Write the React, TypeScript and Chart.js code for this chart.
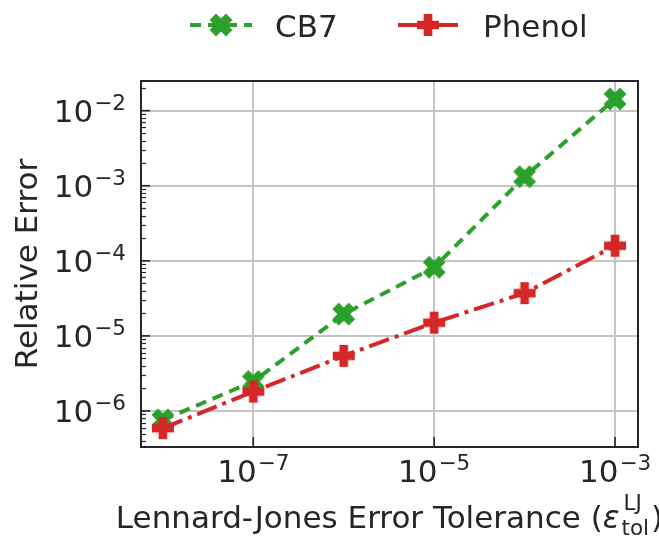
import React, { useEffect, useRef } from 'react';
import { Chart, registerables } from 'chart.js';

Chart.register(...registerables);

// ---- data ----
const tolerances = [1e-8, 1e-7, 1e-6, 1e-5, 1e-4, 1e-3];
const cb7Errors = [7.6e-7, 2.47e-6, 1.95e-5, 8.2e-5, 1.32e-3, 1.43e-2];
const phenolErrors = [5.9e-7, 1.81e-6, 5.42e-6, 1.5e-5, 3.71e-5, 1.59e-4];
const seriesLabels = ['CB7', 'Phenol'];
const xTickExponents = [-7, -5, -3];
const yTickExponents = [-6, -5, -4, -3, -2];
const yAxisTitle = 'Relative Error';
const xAxisTitleMain = 'Lennard-Jones Error Tolerance (';
const xAxisTitleSymbol = 'ε';
const xAxisTitleSup = 'LJ';
const xAxisTitleSub = 'tol';

const GREEN = '#2ca02c';
const RED = '#d62728';
const TEXT = '#262626';
const FONT = '"DejaVu Sans", "Liberation Sans", sans-serif';
const FS = 31;
const FS_SMALL = 21.5;

function makeMarker(kind: 'X' | 'P', color: string, size: number): HTMLCanvasElement {
  const pad = 3;
  const dim = Math.round(size + pad * 2);
  const c = document.createElement('canvas');
  c.width = dim;
  c.height = dim;
  const ctx = c.getContext('2d')!;
  const raw =
    kind === 'X'
      ? [[-1, -2], [0, -1], [1, -2], [2, -1], [1, 0], [2, 1], [1, 2], [0, 1], [-1, 2], [-2, 1], [-1, 0], [-2, -1]].map(([a, b]) => [a / 4, b / 4])
      : [[-1, -3], [-1, -1], [-3, -1], [-3, 1], [-1, 1], [-1, 3], [1, 3], [1, 1], [3, 1], [3, -1], [1, -1], [1, -3]].map(([a, b]) => [a / 6, b / 6]);
  ctx.beginPath();
  raw.forEach(([a, b], i) => {
    const x = dim / 2 + a * size;
    const y = dim / 2 + b * size;
    if (i === 0) ctx.moveTo(x, y);
    else ctx.lineTo(x, y);
  });
  ctx.closePath();
  ctx.fillStyle = color;
  ctx.fill();
  ctx.lineWidth = 2;
  ctx.lineJoin = 'miter';
  ctx.strokeStyle = color;
  ctx.stroke();
  return c;
}

function drawPow(ctx: CanvasRenderingContext2D, x: number, baseline: number, exp: number, align: 'center' | 'right') {
  const base = '10';
  const sup = '\u2212' + Math.abs(exp);
  ctx.font = `${FS}px ${FONT}`;
  const wb = ctx.measureText(base).width;
  ctx.font = `${FS_SMALL}px ${FONT}`;
  const ws = ctx.measureText(sup).width;
  const gap = 1;
  const total = wb + gap + ws;
  const left = align === 'center' ? x - total / 2 : x - total;
  ctx.textAlign = 'left';
  ctx.textBaseline = 'alphabetic';
  ctx.font = `${FS}px ${FONT}`;
  ctx.fillText(base, left, baseline);
  ctx.font = `${FS_SMALL}px ${FONT}`;
  ctx.fillText(sup, left + wb + gap, baseline - 12);
}

const decorPlugin = {
  id: 'decor',
  afterDatasetsDraw(chart: any) {
    const ctx: CanvasRenderingContext2D = chart.ctx;
    const { left, right, top, bottom } = chart.chartArea;
    const xs = chart.scales.x;
    const ys = chart.scales.y;
    ctx.save();
    ctx.fillStyle = TEXT;
    ctx.strokeStyle = TEXT;

    // minor y ticks (inward)
    ctx.lineWidth = 1.2;
    for (let n = -8; n <= -1; n++) {
      for (let k = 2; k <= 9; k++) {
        const v = k * Math.pow(10, n);
        if (v < ys.min || v > ys.max) continue;
        const py = Math.round(ys.getPixelForValue(v)) + 0.5;
        ctx.beginPath();
        ctx.moveTo(left, py);
        ctx.lineTo(left + 5, py);
        ctx.stroke();
      }
    }
    // major ticks (inward)
    ctx.lineWidth = 1.6;
    yTickExponents.forEach((e) => {
      const py = ys.getPixelForValue(Math.pow(10, e));
      ctx.beginPath();
      ctx.moveTo(left, py);
      ctx.lineTo(left + 9, py);
      ctx.stroke();
    });
    xTickExponents.forEach((e) => {
      const px = xs.getPixelForValue(Math.pow(10, e));
      ctx.beginPath();
      ctx.moveTo(px, bottom);
      ctx.lineTo(px, bottom - 10);
      ctx.stroke();
    });

    // frame
    ctx.lineWidth = 2;
    ctx.strokeRect(left, top, right - left, bottom - top);

    // tick labels
    yTickExponents.forEach((e) => {
      const py = ys.getPixelForValue(Math.pow(10, e));
      drawPow(ctx, left - 15, py + 11, e, 'right');
    });
    xTickExponents.forEach((e) => {
      const px = xs.getPixelForValue(Math.pow(10, e));
      drawPow(ctx, px, bottom + 35, e, 'center');
    });

    // y axis title
    ctx.save();
    ctx.translate(37, (top + bottom) / 2);
    ctx.rotate(-Math.PI / 2);
    ctx.font = `${FS}px ${FONT}`;
    ctx.textAlign = 'center';
    ctx.textBaseline = 'alphabetic';
    ctx.fillText(yAxisTitle, 0, 0);
    ctx.restore();

    // x axis title with sub/superscript
    ctx.textAlign = 'left';
    ctx.textBaseline = 'alphabetic';
    ctx.font = `${FS}px ${FONT}`;
    const wMain = ctx.measureText(xAxisTitleMain).width;
    const wClose = ctx.measureText(')').width;
    ctx.font = `italic ${FS}px ${FONT}`;
    const wEps = ctx.measureText(xAxisTitleSymbol).width;
    ctx.font = `${FS_SMALL}px ${FONT}`;
    const wSup = ctx.measureText(xAxisTitleSup).width;
    const wSub = ctx.measureText(xAxisTitleSub).width;
    const wScript = Math.max(wSup, wSub) + 2;
    const total = wMain + wEps + 2 + wScript + wClose;
    let cx = (left + right) / 2 - total / 2;
    const bl = 528;
    ctx.font = `${FS}px ${FONT}`;
    ctx.fillText(xAxisTitleMain, cx, bl);
    cx += wMain;
    ctx.font = `italic ${FS}px ${FONT}`;
    ctx.fillText(xAxisTitleSymbol, cx, bl);
    cx += wEps + 2;
    ctx.font = `${FS_SMALL}px ${FONT}`;
    ctx.fillText(xAxisTitleSup, cx + 2, bl - 18);
    ctx.fillText(xAxisTitleSub, cx, bl + 7);
    cx += wScript;
    ctx.font = `${FS}px ${FONT}`;
    ctx.fillText(')', cx, bl);

    // legend
    const ly = 25;
    const markers = chart.$legendMarkers as HTMLCanvasElement[];
    // CB7
    ctx.lineWidth = 4;
    ctx.strokeStyle = GREEN;
    ctx.setLineDash([11, 7]);
    ctx.beginPath();
    ctx.moveTo(190, ly);
    ctx.lineTo(252, ly);
    ctx.stroke();
    ctx.setLineDash([]);
    ctx.drawImage(markers[0], 221 - markers[0].width / 2, ly - markers[0].height / 2);
    ctx.fillStyle = TEXT;
    ctx.font = `${FS}px ${FONT}`;
    ctx.fillText(seriesLabels[0], 275, 37);
    // Phenol
    ctx.strokeStyle = RED;
    ctx.beginPath();
    ctx.moveTo(398, ly);
    ctx.lineTo(458, ly);
    ctx.stroke();
    ctx.drawImage(markers[1], 428 - markers[1].width / 2, ly - markers[1].height / 2);
    ctx.fillStyle = TEXT;
    ctx.fillText(seriesLabels[1], 483, 37);

    ctx.restore();
  },
};

export default function App() {
  const ref = useRef<HTMLCanvasElement | null>(null);

  useEffect(() => {
    document.body.style.margin = '0';
    const canvas = ref.current;
    if (!canvas) return;
    const markerX = makeMarker('X', GREEN, 20);
    const markerP = makeMarker('P', RED, 20);

    const chart: any = new Chart(canvas, {
      type: 'line',
      data: {
        datasets: [
          {
            label: seriesLabels[0],
            data: tolerances.map((t, i) => ({ x: t, y: cb7Errors[i] })),
            borderColor: GREEN,
            backgroundColor: GREEN,
            borderWidth: 4,
            borderDash: [11, 7],
            borderJoinStyle: 'round',
            pointStyle: markerX,
            pointRadius: 11,
            fill: false,
            tension: 0,
            order: 2,
          },
          {
            label: seriesLabels[1],
            data: tolerances.map((t, i) => ({ x: t, y: phenolErrors[i] })),
            borderColor: RED,
            backgroundColor: RED,
            borderWidth: 4,
            borderDash: [21, 6, 4, 6],
            borderJoinStyle: 'round',
            pointStyle: markerP,
            pointRadius: 11,
            fill: false,
            tension: 0,
            order: 1,
          },
        ],
      } as any,
      options: {
        animation: false,
        responsive: false,
        devicePixelRatio: 1,
        layout: { padding: { top: 81, right: 21, left: 0, bottom: 0 } },
        plugins: {
          legend: { display: false },
          title: { display: false },
          tooltip: { enabled: false },
        },
        scales: {
          x: {
            type: 'logarithmic',
            position: 'bottom',
            bounds: 'data',
            min: Math.pow(10, -8.242),
            max: Math.pow(10, -2.746),
            ticks: { display: false },
            grid: { color: '#c4c4c4', lineWidth: 2, drawTicks: false },
            border: { display: false },
            afterBuildTicks: (scale: any) => {
              scale.ticks = xTickExponents.map((e) => ({ value: Math.pow(10, e) }));
            },
            afterFit: (scale: any) => {
              scale.height = 93;
            },
          },
          y: {
            type: 'logarithmic',
            position: 'left',
            bounds: 'data',
            min: Math.pow(10, -6.48),
            max: Math.pow(10, -1.605),
            ticks: { display: false },
            grid: { color: '#c4c4c4', lineWidth: 2, drawTicks: false },
            border: { display: false },
            afterBuildTicks: (scale: any) => {
              scale.ticks = yTickExponents.map((e) => ({ value: Math.pow(10, e) }));
            },
            afterFit: (scale: any) => {
              scale.width = 141;
            },
          },
        },
      } as any,
      plugins: [
        {
          id: 'markersRef',
          beforeInit(c: any) {
            c.$legendMarkers = [markerX, markerP];
          },
        },
        decorPlugin,
      ],
    });

    return () => {
      chart.destroy();
    };
  }, []);

  return (
    <div style={{ width: 659, height: 540 }}>
      <canvas ref={ref} width={659} height={540} style={{ display: 'block', width: 659, height: 540 }} />
    </div>
  );
}
